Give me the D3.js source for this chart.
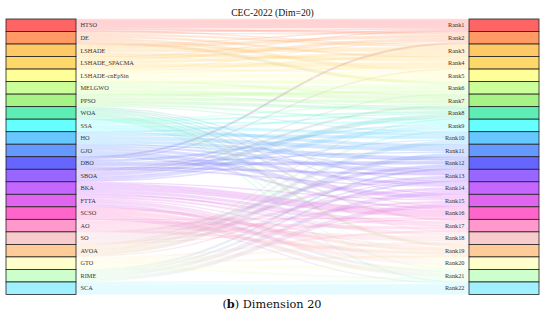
<!DOCTYPE html>
<html><head><meta charset="utf-8">
<script src="https://cdn.jsdelivr.net/npm/d3@7"></script>
<style>body{margin:0;background:#fff} svg{display:block}</style>
</head><body>
<svg id="chart" width="550" height="325"></svg>
<script>
const algorithms = ["HTSO","DE","LSHADE","LSHADE_SPACMA","LSHADE-cnEpSin","MELGWO","PPSO","WOA","SSA","HO","GJO","DBO","SBOA","BKA","FTTA","SCSO","AO","SO","AVOA","GTO","RIME","SCA"];
const rankLabels = ["Rank1","Rank2","Rank3","Rank4","Rank5","Rank6","Rank7","Rank8","Rank9","Rank10","Rank11","Rank12","Rank13","Rank14","Rank15","Rank16","Rank17","Rank18","Rank19","Rank20","Rank21","Rank22"];
const nodeColors = ["#ff6464","#ff9966","#ffc966","#ffd86a","#ffff99","#ccff99","#a6f485","#5eedb5","#66ffff","#66c8ff","#6699ff","#6666ff","#9966ff","#c466ff","#e066f0","#ff66cc","#ff99cc","#f8cccc","#ffcc99","#ffffcc","#ccffcc","#a0f0ff"];

// each function: algorithm indices listed from Rank1 to Rank22
const F1  = [0,3,2,11,4,1,5,12,18,6,8,17,9,20,7,10,13,16,19,15,14,21];
const F2  = [0,2,4,3,1,6,5,12,8,18,9,20,10,11,17,13,7,16,15,14,19,21];
const F3  = [0,11,3,2,1,5,4,12,6,9,18,17,8,20,13,10,19,16,7,15,14,21];
const F4  = [0,1,3,4,2,5,8,6,12,18,9,11,17,20,10,13,16,19,14,15,21,7];
const F5  = [3,0,2,1,4,12,5,6,11,8,18,9,17,10,20,13,16,14,7,19,15,21];
const F6  = [0,4,2,3,5,1,6,18,8,12,9,20,11,17,10,16,13,19,15,14,7,21];
const F7  = [0,2,1,3,5,4,12,6,11,9,8,17,18,10,20,7,13,19,16,14,21,15];
const F8  = [2,3,0,4,1,6,5,8,12,18,9,11,20,7,10,17,14,13,16,15,19,21];
const F9  = [0,11,1,2,3,5,4,12,6,18,8,9,17,10,20,13,19,7,16,14,15,21];
const F10 = [0,3,4,2,5,1,6,8,12,9,18,11,10,20,17,13,14,16,7,19,15,21];
const F11 = [1,0,2,3,4,6,12,5,18,8,11,9,20,17,10,13,7,16,15,19,14,21];
const F12 = [0,2,3,1,4,5,6,9,12,8,18,10,11,17,20,13,16,14,19,7,15,21];
const functionOrders = [F1,F2,F3,F4,F5,F6,F7,F8,F9,F10,F11,F12];

const svg = d3.select("#chart");
const n = algorithms.length;
const y = d3.scaleBand().domain(d3.range(n)).range([19, 294.5]).paddingInner(0);
const leftX0 = 6, leftX1 = 76, rightX0 = 469, rightX1 = 539;
const lw = y.bandwidth() / functionOrders.length;

const links = [];
functionOrders.forEach((ord, f) => ord.forEach((a, r) => links.push({source: a, target: r, f})));
d3.groups(links, d => d.source).forEach(([s, arr]) => {
  arr.sort((a, b) => a.target - b.target || a.f - b.f);
  arr.forEach((l, i) => l.y0 = y(s) + lw * (i + 0.5));
});
d3.groups(links, d => d.target).forEach(([t, arr]) => {
  arr.sort((a, b) => a.source - b.source || a.f - b.f);
  arr.forEach((l, i) => l.y1 = y(t) + lw * (i + 0.5));
});

const defs = svg.append("defs");
links.forEach((l, i) => {
  const g = defs.append("linearGradient").attr("id", "g" + i)
    .attr("gradientUnits", "userSpaceOnUse")
    .attr("x1", leftX1).attr("x2", rightX0).attr("y1", 0).attr("y2", 0);
  g.append("stop").attr("offset", "0%").attr("stop-color", nodeColors[l.source]);
  g.append("stop").attr("offset", "100%").attr("stop-color", nodeColors[l.target]);
});

const linkGen = d3.linkHorizontal().x(d => d[0]).y(d => d[1]);
svg.append("g").attr("fill", "none")
  .selectAll("path").data(links).join("path")
  .attr("d", d => linkGen({source: [leftX1, d.y0], target: [rightX0, d.y1]}))
  .attr("stroke", (d, i) => `url(#g${i})`)
  .attr("stroke-width", lw * 1.25)
  .attr("stroke-opacity", 0.24);

svg.append("g").selectAll("rect").data(algorithms).join("rect")
  .attr("x", leftX0).attr("y", (d, i) => y(i))
  .attr("width", leftX1 - leftX0).attr("height", y.bandwidth())
  .attr("fill", (d, i) => nodeColors[i]).attr("stroke", "#222").attr("stroke-width", 0.8);
svg.append("g").selectAll("rect").data(rankLabels).join("rect")
  .attr("x", rightX0).attr("y", (d, i) => y(i))
  .attr("width", rightX1 - rightX0).attr("height", y.bandwidth())
  .attr("fill", (d, i) => nodeColors[i]).attr("stroke", "#222").attr("stroke-width", 0.8);

const font = "'Liberation Serif','Times New Roman',serif";
svg.append("g").selectAll("text").data(algorithms).join("text")
  .attr("x", 80.5).attr("y", (d, i) => y(i) + y.bandwidth() / 2)
  .attr("dy", "0.35em").attr("font-family", font).attr("font-size", 6.3).attr("fill", "#333")
  .text(d => d);
svg.append("g").selectAll("text").data(rankLabels).join("text")
  .attr("x", 464.5).attr("y", (d, i) => y(i) + y.bandwidth() / 2)
  .attr("dy", "0.35em").attr("text-anchor", "end").attr("font-family", font).attr("font-size", 6.3).attr("fill", "#333")
  .text(d => d);

svg.append("text").attr("x", 272.5).attr("y", 15.5).attr("text-anchor", "middle")
  .attr("font-family", font).attr("font-size", 9.7).attr("fill", "#111").text("CEC-2022 (Dim=20)");

const cap = svg.append("text").attr("x", 272).attr("y", 307.5).attr("text-anchor", "middle")
  .attr("font-family", "'DejaVu Serif',serif").attr("font-size", 11.3).attr("fill", "#111");
cap.append("tspan").text("(");
cap.append("tspan").attr("font-weight", "bold").text("b");
cap.append("tspan").text(") Dimension 20");
</script>
</body></html>
